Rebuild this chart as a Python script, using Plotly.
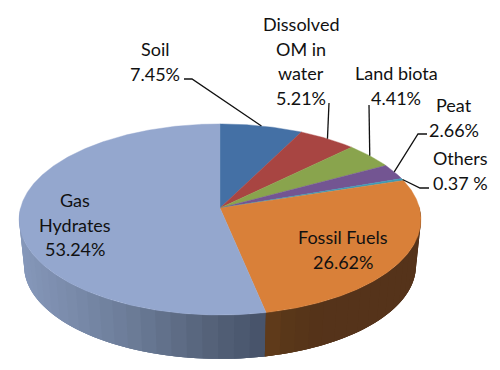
import numpy as np
import plotly.graph_objects as go

# ---- data ----
categories = ["Soil", "Dissolved OM in water", "Land biota", "Peat", "Others", "Fossil Fuels", "Gas Hydrates"]
values = [7.45, 5.21, 4.41, 2.66, 0.37, 26.62, 53.24]
value_labels = ["7.45%", "5.21%", "4.41%", "2.66%", "0.37 %", "26.62%", "53.24%"]
label_lines = [["Soil"], ["Dissolved", "OM in", "water"], ["Land biota"], ["Peat"], ["Others"], ["Fossil Fuels"], ["Gas", "Hydrates"]]

# ---- style ----
top_colors = ["#4470a5", "#a84542", "#89a44d", "#735592", "#3f9bb5", "#d98039", "#94a7ce"]
# wall shading as (screen x, rgb) stops
wall_blue = [(24, (133, 151, 185)), (130, (108, 124, 152)), (200, (88, 102, 125)), (262, (71, 83, 106))]
wall_orange = [(266, (99, 61, 28)), (285, (90, 56, 25)), (320, (85, 51, 26))]
CX, CY, R, H, P = 220.0, 208.0, 199.5, 94.2, 0.12
BOTTOM_SCALE, BOTTOM_CY = 0.975, 254.5
label_pos = [(155, 49), (301, 24), (396, 73), (454, 105), (460, 158), (343, 237), (75, 200)]
LINE_H = 24.5
FONT = dict(family="Lato, Carlito, sans-serif", size=18, color="#111111")
# leader anchor points beside each label (the pie end comes from the data)
leader_points = {0: [(184, 79), (192, 79)], 1: [(329, 103)], 2: [(369, 105)], 3: [(427, 134), (418, 134)], 4: [(429, 188), (420, 188)]}

# ---- geometry ----
total = sum(values)
edges = np.degrees(np.cumsum([0] + values) / total * 2 * np.pi)


def top(a):
    a = np.radians(a)
    u, v = np.sin(a), -np.cos(a)
    s = 1 / (1 - P * v)
    return CX + R * u * s, CY + H * v * s


def bottom(a):
    a = np.radians(a)
    u, v = np.sin(a), -np.cos(a)
    s = BOTTOM_SCALE / (1 - P * v)
    return CX + R * u * s, BOTTOM_CY + H * v * s


def grad(stops, x):
    xs = [s[0] for s in stops]
    return "rgb(%d,%d,%d)" % tuple(np.interp(x, xs, [s[1][i] for s in stops]) for i in range(3))


fig = go.Figure()


def poly(x, y, color, width=0.6):
    fig.add_trace(go.Scatter(x=list(x), y=list(y), mode="lines", fill="toself", fillcolor=color,
                             line=dict(color=color, width=width), hoverinfo="skip", showlegend=False))


def wall(a0, a1, stops, step):
    # strips are painted in order, each overlapping the next one, so no seams show
    n = max(1, int(round(abs(a1 - a0) / step)))
    bands = np.linspace(a0, a1, n + 1)
    for i in range(n):
        end = bands[min(i + 3, n)]
        aa = np.linspace(bands[i], end, 6)
        tx, ty = top(aa)
        bx, by = bottom(aa[::-1])
        midx = float(top((bands[i] + bands[i + 1]) / 2)[0])
        fig.add_trace(go.Scatter(x=list(np.r_[tx, bx]), y=list(np.r_[ty, by]), mode="none", fill="toself",
                                 fillcolor=grad(stops, midx), hoverinfo="skip", showlegend=False))


gas_start = edges[6]
# walls: Gas Hydrates from left silhouette to its front edge, Fossil Fuels from right silhouette
wall(270, gas_start, wall_blue, 4)
wall(88, gas_start, wall_orange, 4)

# top face
for i, c in enumerate(top_colors):
    aa = np.linspace(edges[i], edges[i + 1], max(3, int((edges[i + 1] - edges[i]) * 2)))
    x, y = top(aa)
    poly(np.r_[CX, x, CX], np.r_[CY, y, CY], c, 0.4)

# leader lines
for i, pts in leader_points.items():
    mid = (edges[i] + edges[i + 1]) / 2
    ex, ey = top(mid)
    xs = [p[0] for p in pts] + [float(ex)]
    ys = [p[1] for p in pts] + [float(ey)]
    fig.add_trace(go.Scatter(x=xs, y=ys, mode="lines", line=dict(color="#111111", width=1.3),
                             hoverinfo="skip", showlegend=False))

# labels: one annotation per line for the original line spacing
for lines, val, (x, y) in zip(label_lines, value_labels, label_pos):
    for j, t in enumerate(lines + [val]):
        fig.add_annotation(x=x, y=y + j * LINE_H, text=t, showarrow=False, xanchor="center", yanchor="middle",
                           font=FONT)

# the page body adds an 8 px margin, so the plot box covers pixels 8..500 / 8..370
fig.update_layout(width=492, height=362, margin=dict(l=0, r=0, t=0, b=0), paper_bgcolor="white",
                  plot_bgcolor="white", showlegend=False,
                  xaxis=dict(range=[8, 500], visible=False, fixedrange=True),
                  yaxis=dict(range=[370, 8], visible=False, fixedrange=True))
fig.write_html("out.html", config={"displayModeBar": False})
